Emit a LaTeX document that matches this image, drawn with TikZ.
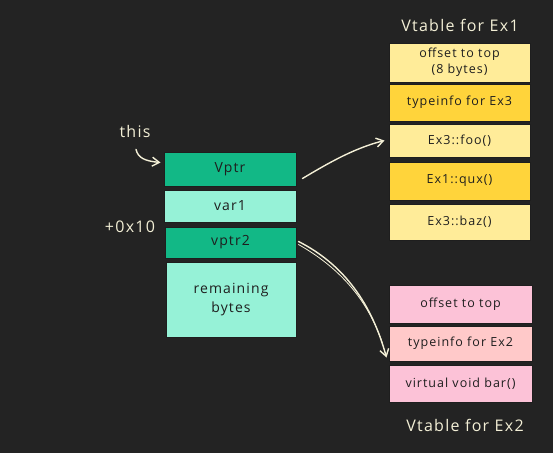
\documentclass[tikz,border=0pt]{standalone}
\usepackage{fontspec}
\setmainfont{Open Sans}[LetterSpace=8]
\usetikzlibrary{arrows.meta}
\definecolor{bg}{HTML}{232323}
\definecolor{dgreen}{HTML}{12B886}
\definecolor{lgreen}{HTML}{96F2D7}
\definecolor{lyel}{HTML}{FFEC99}
\definecolor{dyel}{HTML}{FFD43B}
\definecolor{pinkc}{HTML}{FCC2D7}
\definecolor{lred}{HTML}{FFC9C9}
\definecolor{ink}{HTML}{1E1E1E}
\definecolor{cream}{HTML}{F3EFD6}
\tikzset{
  cell/.style={draw=ink, line width=1pt, text=ink, font=\fontsize{12.5}{16}\selectfont, align=center, inner sep=0pt},
  big/.style={font=\fontsize{14}{19}\selectfont},
  lbl/.style={text=cream, font=\fontsize{16}{18}\selectfont, inner sep=0pt},
  conn/.style={draw=cream, line width=1.4pt, line cap=round, -{Straight Barb[length=7pt,width=9pt,line width=1.4pt]}}
}
\begin{document}
\begin{tikzpicture}[x=1pt,y=-1pt]
\fill[bg] (0,0) rectangle (553,453);
\useasboundingbox (0,0) rectangle (553,453);
% left object layout
\node[cell, big, fill=dgreen, minimum width=132pt, minimum height=34pt] (vptr) at (230,169.5) {Vptr};
\node[cell, big, fill=lgreen, minimum width=132pt, minimum height=32pt] (var1) at (230,206) {var1};
\node[cell, big, fill=dgreen, minimum width=131pt, minimum height=31pt] (vptr2) at (230.5,242.5) {vptr2};
\node[cell, big, fill=lgreen, minimum width=130pt, minimum height=75pt] (rem) at (231,299.5) {remaining\\bytes};
\node[lbl] (this) at (135,131) {this};
\node[lbl] (off) at (130,227) {+0x10};
% vtable Ex1
\node[lbl] (t1) at (460,25) {Vtable for Ex1};
\node[cell, fill=lyel, minimum width=141pt, minimum height=39pt] (o1) at (459.5,62.5) {offset to top\\(8 bytes)};
\node[cell, fill=dyel, minimum width=141pt, minimum height=37pt] (ti1) at (459.5,102.5) {typeinfo for Ex3};
\node[cell, fill=lyel, minimum width=141pt, minimum height=33pt] (foo) at (459.5,140.5) {Ex3::foo()};
\node[cell, fill=dyel, minimum width=141pt, minimum height=38pt] (qux) at (459.5,181) {Ex1::qux()};
\node[cell, fill=lyel, minimum width=141pt, minimum height=36pt] (baz) at (459.5,222) {Ex3::baz()};
% vtable Ex2
\node[cell, fill=pinkc, minimum width=143pt, minimum height=38pt] (o2) at (460.5,304) {offset to top};
\node[cell, fill=lred, minimum width=143pt, minimum height=35pt] (ti2) at (460.5,343.5) {typeinfo for Ex2};
\node[cell, fill=pinkc, minimum width=143pt, minimum height=37pt] (bar) at (460.5,383.5) {virtual void bar()};
\node[lbl] (t2) at (465,425) {Vtable for Ex2};
% connectors
\draw[conn] ([shift={(1,12)}]this.south) .. controls (138,158) and (145,161) .. ([shift={(-3,-7)}]vptr.west);
\draw[conn] ([shift={(6,9)}]vptr.east) .. controls (330,162) and (355,148) .. ([shift={(-4,0)}]foo.west);
\draw[conn] ([shift={(2,-1)}]vptr2.east) .. controls (345,265) and (372,305) .. ([shift={(-2,14)}]ti2.west);
\draw[draw=cream, line width=0.8pt, line cap=round] ([shift={(2,2)}]vptr2.east) .. controls (340,268) and (368,300) .. ([shift={(-6,0)}]ti2.west);
\end{tikzpicture}
\end{document}
